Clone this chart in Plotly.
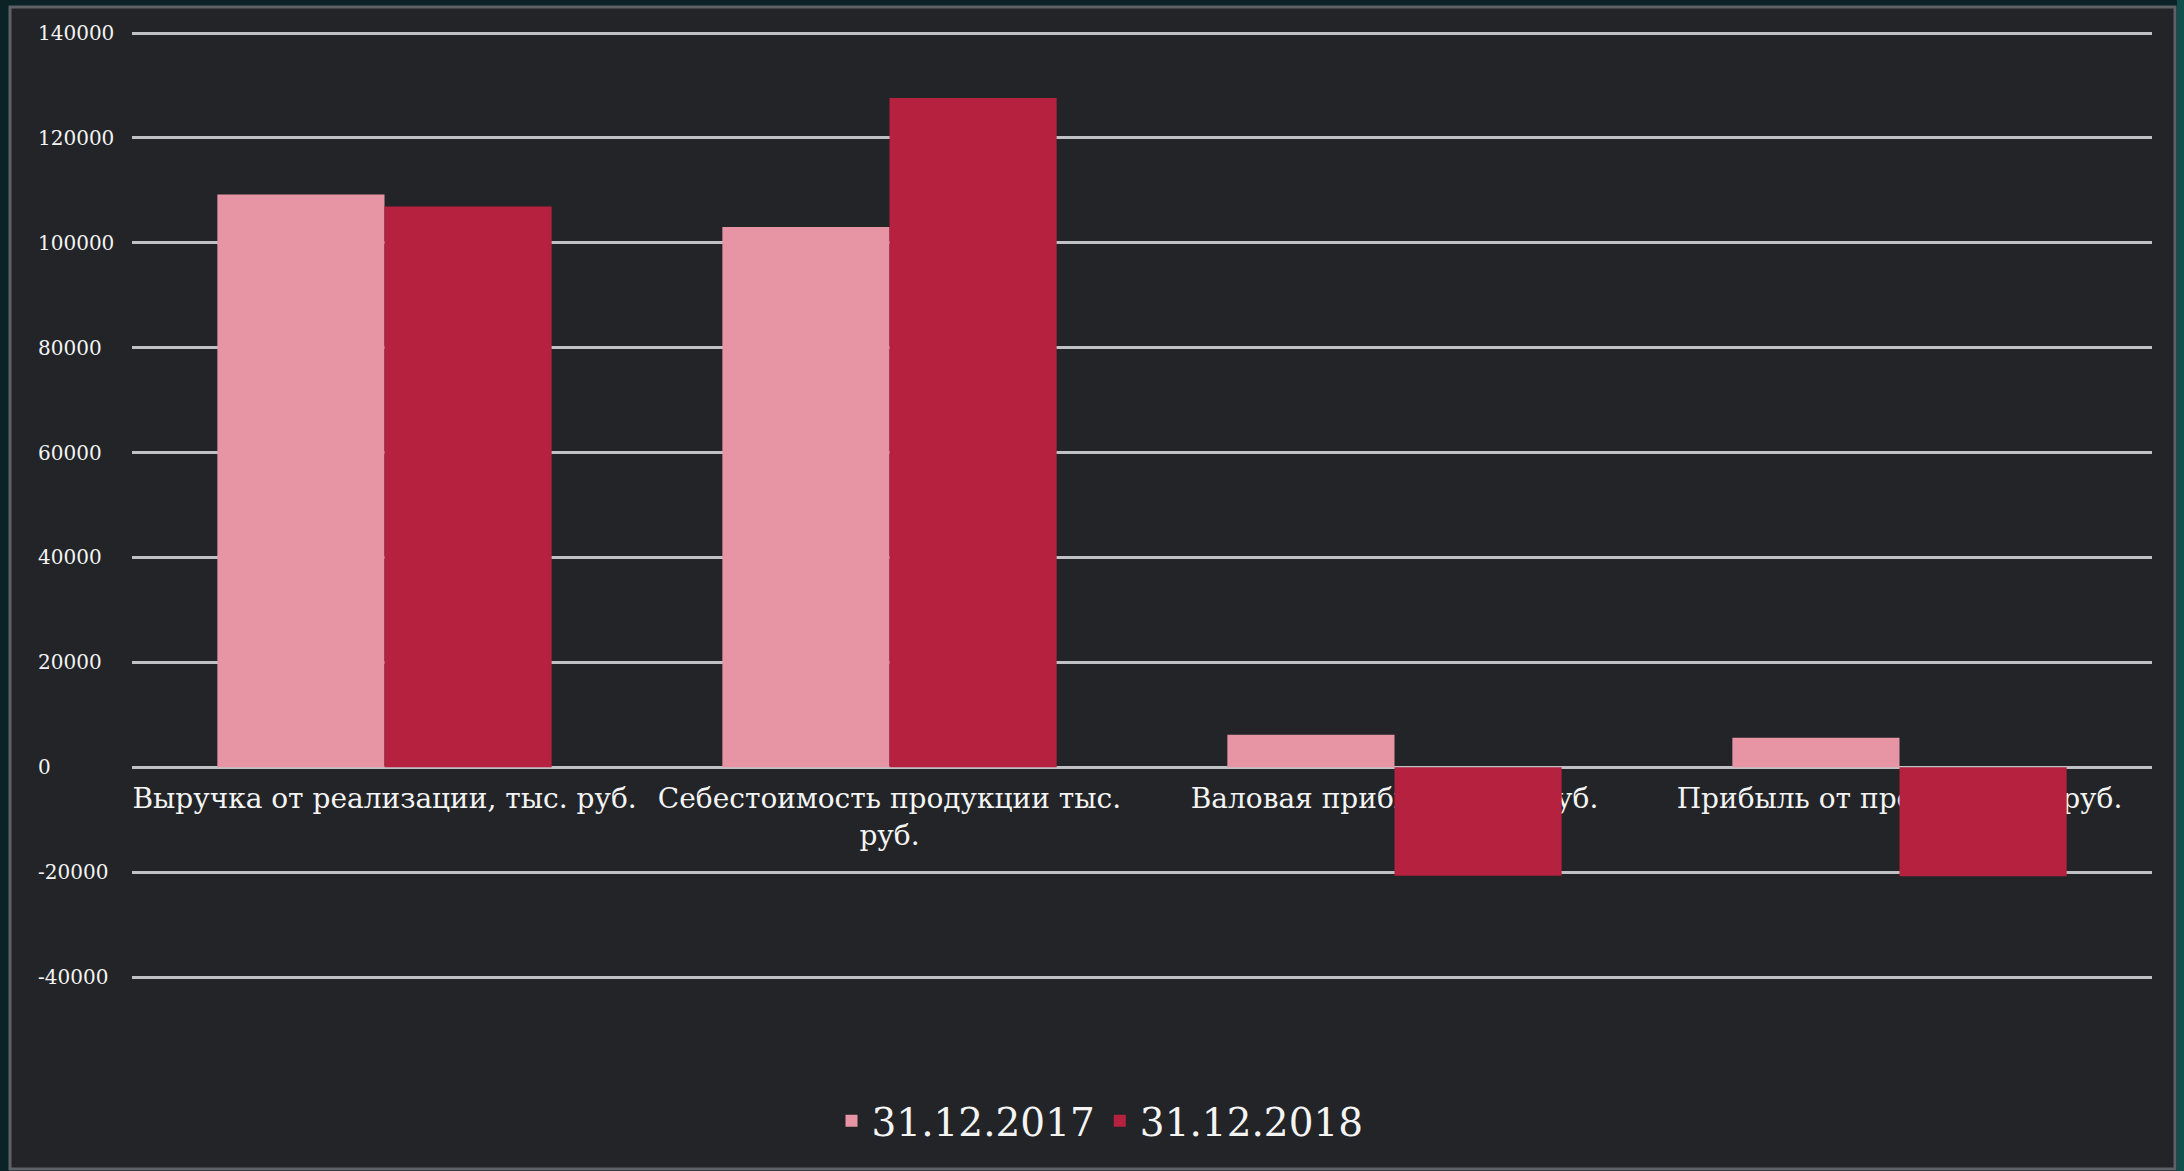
import plotly.graph_objects as go

# Financial indicators, thousand roubles
categories = [
    "Выручка от реализации, тыс. руб.",
    "Себестоимость продукции тыс.<br>руб.",
    "Валовая прибыль, тыс. руб.",
    "Прибыль от продаж, тыс. руб.",
]
series_names = ["31.12.2017", "31.12.2018"]
values_2017 = [109200, 103000, 6200, 5600]
values_2018 = [106900, 127600, -20700, -20800]
y_ticks = [-40000, -20000, 0, 20000, 40000, 60000, 80000, 100000, 120000, 140000]
y_ticktext = [str(v) for v in y_ticks]

W, H = 2184, 1171
# grid spans 140000 (y=33 px) .. -40000 (y=977 px); the value range is padded
# by PAD px on both ends so the outermost tick labels stay visible
PAD = 14
M_L, M_R, M_T, M_B = 34, 32, 33 - PAD, 194 - PAD
PW, PH = W - M_L - M_R, H - M_T - M_B

y_lo, y_hi = -40000, 140000
units_per_px = (y_hi - y_lo) / (977 - 33)
y_min, y_max = y_lo - PAD * units_per_px, y_hi + PAD * units_per_px
zero_pos = (0 - y_min) / (y_max - y_min)


def px_x(px):
    return (px - M_L) / PW


def px_y(py):
    return (H - M_B - py) / PH


FONT = "DejaVu Serif"
LIGHT = "#E795A5"
DARK = "#B6213F"
GRID = "#BFC1C4"

fig = go.Figure()
fig.add_trace(go.Bar(name=series_names[0], x=categories, y=values_2017,
                     marker=dict(color=LIGHT, line=dict(width=0))))
fig.add_trace(go.Bar(name=series_names[1], x=categories, y=values_2018,
                     marker=dict(color=DARK, line=dict(width=0))))

fig.update_layout(
    width=W, height=H,
    margin=dict(l=M_L, r=M_R, t=M_T, b=M_B, pad=0),
    paper_bgcolor="#0b2326",
    plot_bgcolor="rgba(0,0,0,0)",
    barmode="group",
    bargap=0.338,
    bargroupgap=0,
    font=dict(family=FONT, color="#F2F2F2"),
    xaxis=dict(
        domain=[px_x(132), px_x(2152)],
        anchor="free", position=zero_pos,
        showgrid=False, zeroline=False, showline=False,
        ticks="", layer="below traces",
        tickfont=dict(size=28, color="#F4F4F4", family=FONT),
        ticklabelstandoff=12,
        fixedrange=True,
    ),
    yaxis=dict(
        range=[y_min, y_max],
        anchor="free", position=0,
        tickvals=y_ticks, ticktext=y_ticktext,
        ticks="", ticklabelposition="inside",
        showgrid=True, gridcolor=GRID, gridwidth=2.6,
        zeroline=False, showline=False,
        tickfont=dict(size=20, color="#F4F4F4", family=FONT),
        fixedrange=True,
    ),
    legend=dict(
        orientation="h",
        x=px_x(1100), xanchor="center",
        y=px_y(1121), yanchor="middle",
        font=dict(size=39, color="#F4F4F4", family=FONT),
        bgcolor="rgba(0,0,0,0)",
        traceorder="normal",
    ),
    shapes=[
        # dark chart panel with a thin grey frame
        dict(type="rect", xref="paper", yref="paper", layer="below",
             x0=px_x(10), x1=px_x(2175), y0=px_y(1169), y1=px_y(7),
             fillcolor="#222428", line=dict(color="#5E6165", width=3)),
        # teal strip along the right edge of the slide
        dict(type="rect", xref="paper", yref="paper", layer="below",
             x0=px_x(2177), x1=px_x(2186), y0=px_y(1175), y1=px_y(-4),
             fillcolor="#0F4F4D", line=dict(width=0)),
    ],
)

fig.write_html("out.html")
